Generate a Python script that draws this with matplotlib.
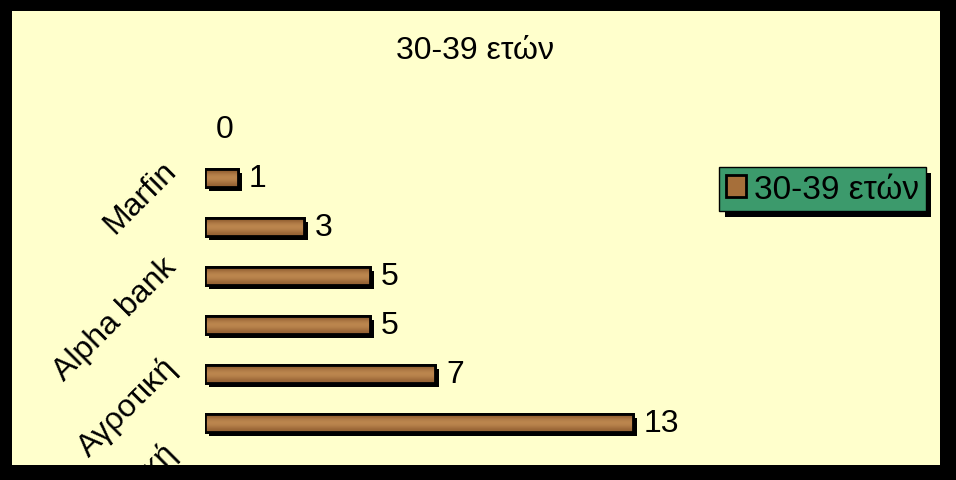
import numpy as np
import matplotlib
matplotlib.use("Agg")
import matplotlib.pyplot as plt
from matplotlib.patches import Rectangle, Patch
from matplotlib.transforms import ScaledTranslation
import matplotlib.patheffects as pe

####> DATA <####
title = "30-39 ετών"
series_name = "30-39 ετών"
values = [0, 1, 3, 5, 5, 7, 13]                 # bars, top to bottom
tick_pos = [1, 3, 5, 7]                          # Excel shows every other category label
tick_labels = ["Marfin", "Alpha bank", "Αγροτική", "Εμπορική"]

####> STYLE <####
plt.rcParams['font.family'] = ['Liberation Sans', 'DejaVu Sans']
CREAM = "#FFFFCC"
BROWN = "#A66F3A"
LEGEND_GREEN = "#3C9A6C"
W, H = 956, 481
label_nudge_px = [7, 8, 6, 20]                   # upward shift of each category label

fig = plt.figure(figsize=(W / 100, H / 100), dpi=100, facecolor=CREAM)

# axes placed in pixels: value 0 at x=205, 32.9 px per unit, rows 49 px apart starting at y=130
px_unit = 32.9
x0 = 205
ax = fig.add_axes([x0 / W, (H - 497.5) / H, 20 * px_unit / W, 392 / H])
ax.set_facecolor("none")
for s in ax.spines.values():
    s.set_visible(False)
ax.set_xticks([])

ypos = np.arange(len(values))
bars = ax.barh(ypos, values, height=0.37, color=BROWN, edgecolor="black", linewidth=2,
               label=series_name, zorder=3)
wood = matplotlib.colors.LinearSegmentedColormap.from_list("wood", ["#87552A", "#C18B52"])
for b in bars:
    if b.get_width() == 0:
        b.set_linewidth(0)
        continue
    b.set_path_effects([pe.SimplePatchShadow(offset=(3, -3), shadow_rgbFace="black", alpha=1),
                        pe.Normal()])
    # lighter band in the middle of each bar (wood-like shading)
    grad = np.array([[0.1], [0.7], [1.0], [0.75], [0.3]])
    im = ax.imshow(grad, cmap=wood, aspect="auto", zorder=3.5, interpolation="bicubic",
                   extent=(b.get_x(), b.get_x() + b.get_width(), b.get_y() + b.get_height(), b.get_y()))
    im.set_clip_path(b)
    ax.add_patch(Rectangle(b.get_xy(), b.get_width(), b.get_height(), facecolor="none",
                           edgecolor="black", linewidth=2, zorder=4))
ax.set_xlim(0, 20)
ax.set_ylim(7.5, -0.5)

ax.bar_label(bars, padding=8, fontsize=23, color="black")

ax.set_yticks(tick_pos)
ax.set_yticklabels(tick_labels, rotation=45, rotation_mode="anchor", ha="right",
                   va="baseline", fontsize=23)
ax.tick_params(axis="y", length=0, pad=11)
for lab, dy in zip(ax.get_yticklabels(), label_nudge_px):
    lab.set_transform(lab.get_transform() + ScaledTranslation(-12 / 100, dy / 100, fig.dpi_scale_trans))

# legend
handle = Patch(facecolor=BROWN, edgecolor="black", linewidth=2)
leg = fig.legend([handle], [series_name], loc="upper left",
                 bbox_to_anchor=(719 / W, 1 - 168 / H), fontsize=24,
                 frameon=True, fancybox=False, facecolor=LEGEND_GREEN, edgecolor="black",
                 handlelength=0.6, handleheight=0.6, handletextpad=0.25,
                 borderpad=0.2, borderaxespad=0)
leg.get_frame().set_linewidth(1)
leg.get_frame().set_alpha(1)
leg.get_frame().set_path_effects([pe.SimplePatchShadow(offset=(4, -4), shadow_rgbFace="black", alpha=1),
                                  pe.Normal()])

fig.text(475 / W, 1 - 51 / H, title, ha="center", va="center", fontsize=23)

# black frame drawn on top (clips the lowest category label like the original)
for (x, y, w, h) in [(0, 0, 12, H), (0, 0, W, 12), (940, 0, 16, H), (0, 466, W, 15)]:
    fig.patches.append(Rectangle((x / W, 1 - (y + h) / H), w / W, h / H, transform=fig.transFigure,
                                 facecolor="black", edgecolor="none", zorder=10))

fig.savefig("out.png", dpi=100, facecolor=CREAM)
